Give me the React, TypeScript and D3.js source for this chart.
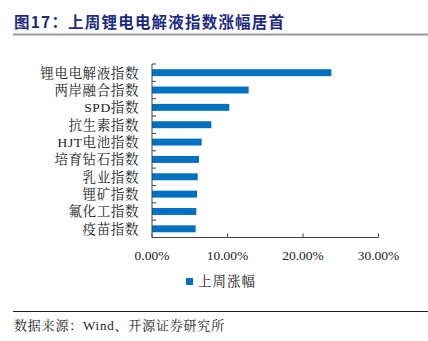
import React from "react";
import * as d3 from "d3";

const categories = ["锂电电解液指数", "两岸融合指数", "SPD指数", "抗生素指数", "HJT电池指数", "培育钻石指数", "乳业指数", "锂矿指数", "氟化工指数", "疫苗指数"];
const values = [23.75, 12.8, 10.24, 7.86, 6.58, 6.22, 6.05, 5.96, 5.87, 5.78];
const xTicks = [0, 10, 20, 30];
const seriesName = "上周涨幅";
const title = "图17：上周锂电电解液指数涨幅居首";
const source = "数据来源：Wind、开源证券研究所";

const W = 428, H = 341;
const cjk = "'Liberation Serif', 'Times New Roman', 'Noto Serif CJK SC', 'Noto Sans CJK SC', serif";

export default function App() {
  const x = d3.scaleLinear().domain([0, 30]).range([152, 378.5]);
  const y = d3.scaleBand().domain(categories).range([64, 237.5]).paddingInner(0.6).paddingOuter(0.3);
  const band = d3.scaleBand().domain(categories).range([64, 237.5]);
  const axisColor = "#404040";
  return (
    <svg width={W} height={H} style={{ position: "absolute", left: 0, top: 0, background: "#fff" }}>
      <text x={14} y={28} fontFamily="'Noto Sans CJK SC', sans-serif" fontWeight={700} fontSize={15.5} fill="#1c2a84" letterSpacing={1.2}>{title}</text>
      <rect x={13} y={33.5} width={415} height={2} fill="#999" />
      {categories.map((c, i) => (
        <rect key={c} x={x(0)} y={y(c)!} width={x(values[i]) - x(0)} height={y.bandwidth()} fill="#0070c0" />
      ))}
      <line x1={152} x2={152} y1={64} y2={237.5} stroke={axisColor} strokeWidth={1} />
      {categories.map((c) => (
        <line key={"t" + c} x1={152} x2={156} y1={band(c)!} y2={band(c)!} stroke={axisColor} />
      ))}
      <line x1={152} x2={156} y1={237.5} y2={237.5} stroke={axisColor} />
      <line x1={152} x2={378.5} y1={237.5} y2={237.5} stroke={axisColor} strokeWidth={1} />
      {xTicks.map((t) => (
        <g key={"x" + t}>
          <line x1={x(t)} x2={x(t)} y1={233.5} y2={237.5} stroke={axisColor} />
          <text x={x(t)} y={260} textAnchor="middle" fontFamily={cjk} fontSize={13.5} fill="#222">{t.toFixed(2) + "%"}</text>
        </g>
      ))}
      {categories.map((c) => (
        <text key={"l" + c} x={139} y={band(c)! + band.bandwidth() / 2 + 5} textAnchor="end" fontFamily={cjk} fontSize={13.5} fill="#222" letterSpacing={0.6}>{c}</text>
      ))}
      <rect x={186} y={278} width={7} height={7} fill="#0070c0" />
      <text x={198} y={286} fontFamily={cjk} fontSize={13.5} fill="#222" letterSpacing={1}>{seriesName}</text>
      <line x1={13} x2={428} y1={311.5} y2={311.5} stroke="#222" strokeWidth={1} />
      <text x={14} y={330} fontFamily={cjk} fontSize={13} fill="#222" letterSpacing={0.8}>{source}</text>
    </svg>
  );
}
